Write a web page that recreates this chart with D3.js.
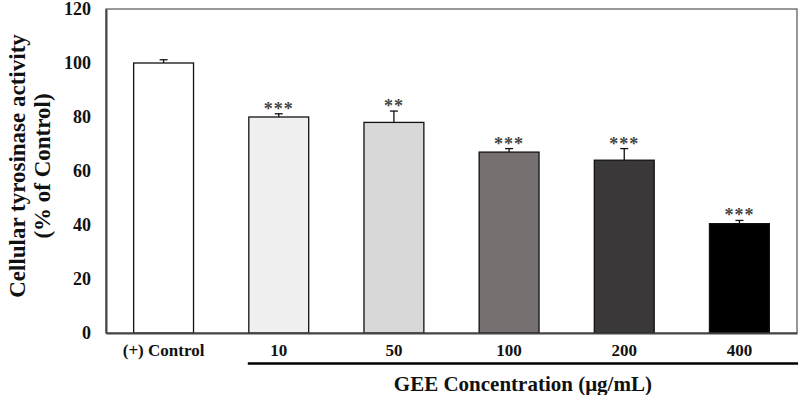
<!DOCTYPE html>
<html>
<head>
<meta charset="utf-8">
<script src="https://cdn.jsdelivr.net/npm/d3@7"></script>
<style>
  body { margin: 0; background: #fff; }
  text { font-family: "Liberation Serif", "Times New Roman", serif; font-weight: bold; }
</style>
</head>
<body>
<svg id="chart" width="800" height="395"></svg>
<script>
const categories = ['(+) Control', '10', '50', '100', '200', '400'];
const values = [100, 80, 78, 67, 64, 40.5];
const errors = [1.2, 1.2, 4.2, 1.3, 4.3, 1.2];
const stars = ['', '***', '**', '***', '***', '***'];
const colors = ['#ffffff', '#f0f0f0', '#d8d8d8', '#767070', '#3b3839', '#000000'];
const yTicks = [0, 20, 40, 60, 80, 100, 120];

const svg = d3.select('#chart');
const margin = { top: 9, right: 3, bottom: 62, left: 106 };
const width = 800 - margin.left - margin.right;
const height = 395 - margin.top - margin.bottom;

const graph = svg.append('g')
  .attr('transform', `translate(${margin.left},${margin.top})`);

const x = d3.scaleBand()
  .domain(categories)
  .range([0, width])
  .paddingInner(0.48)
  .paddingOuter(0.24);

const y = d3.scaleLinear()
  .domain([0, 120])
  .range([height, 0]);

// frame
graph.append('rect')
  .attr('width', width)
  .attr('height', height)
  .attr('fill', 'none')
  .attr('stroke', '#333')
  .attr('stroke-width', 1);

// bars
graph.selectAll('rect.bar')
  .data(values)
  .enter()
  .append('rect')
  .attr('class', 'bar')
  .attr('x', (d, i) => x(categories[i]))
  .attr('y', d => y(d))
  .attr('width', x.bandwidth())
  .attr('height', d => height - y(d))
  .attr('fill', (d, i) => colors[i])
  .attr('stroke', '#111')
  .attr('stroke-width', 1.3);

// error bars
const err = graph.selectAll('g.err')
  .data(values)
  .enter()
  .append('g')
  .attr('class', 'err')
  .attr('transform', (d, i) => `translate(${x(categories[i]) + x.bandwidth() / 2},0)`);

err.append('line')
  .attr('x1', 0).attr('x2', 0)
  .attr('y1', d => y(d))
  .attr('y2', (d, i) => y(d + errors[i]))
  .attr('stroke', '#111')
  .attr('stroke-width', 1.3);

err.append('line')
  .attr('x1', -4).attr('x2', 4)
  .attr('y1', (d, i) => y(d + errors[i]))
  .attr('y2', (d, i) => y(d + errors[i]))
  .attr('stroke', '#111')
  .attr('stroke-width', 1.3);

err.append('text')
  .attr('y', (d, i) => y(d + errors[i]) + 1)
  .attr('text-anchor', 'middle')
  .attr('font-size', 18)
  .attr('font-weight', 'normal')
  .attr('font-family', '"DejaVu Sans", sans-serif')
  .attr('letter-spacing', 1)
  .attr('fill', '#444')
  .text((d, i) => stars[i]);

// axes
const yAxis = d3.axisLeft(y).tickValues(yTicks).tickSize(0).tickPadding(15);
const yAxisGroup = graph.append('g').call(yAxis);
yAxisGroup.select('.domain').attr('stroke', '#444').attr('stroke-width', 2);
yAxisGroup.selectAll('text')
  .attr('font-size', 18)
  .attr('font-family', '"Liberation Serif", serif')
  .attr('font-weight', 'bold')
  .attr('fill', '#111');

const xAxis = d3.axisBottom(x).tickSize(0).tickPadding(11);
const xAxisGroup = graph.append('g')
  .attr('transform', `translate(0,${height})`)
  .call(xAxis);
xAxisGroup.select('.domain').attr('stroke', '#444').attr('stroke-width', 2);
xAxisGroup.selectAll('text')
  .attr('font-size', 17)
  .attr('font-family', '"Liberation Serif", serif')
  .attr('font-weight', 'bold')
  .attr('fill', '#111');

// group line under GEE doses
graph.append('line')
  .attr('x1', x(categories[1]) - 1)
  .attr('x2', width + 1)
  .attr('y1', height + 30.5)
  .attr('y2', height + 30.5)
  .attr('stroke', '#000')
  .attr('stroke-width', 2.5);

graph.append('text')
  .attr('x', (x(categories[1]) + width) / 2)
  .attr('y', height + 58)
  .attr('text-anchor', 'middle')
  .attr('font-size', 21)
  .attr('fill', '#111')
  .text('GEE Concentration (μg/mL)');

// y label
const yLabel = svg.append('text')
  .attr('transform', `translate(0,166) rotate(-90)`)
  .attr('text-anchor', 'middle')
  .attr('font-size', 23)
  .attr('fill', '#111');
yLabel.append('tspan').attr('x', 0).attr('y', 25).text('Cellular tyrosinase activity');
yLabel.append('tspan').attr('x', 0).attr('y', 50).text('(% of Control)');
</script>
</body>
</html>
